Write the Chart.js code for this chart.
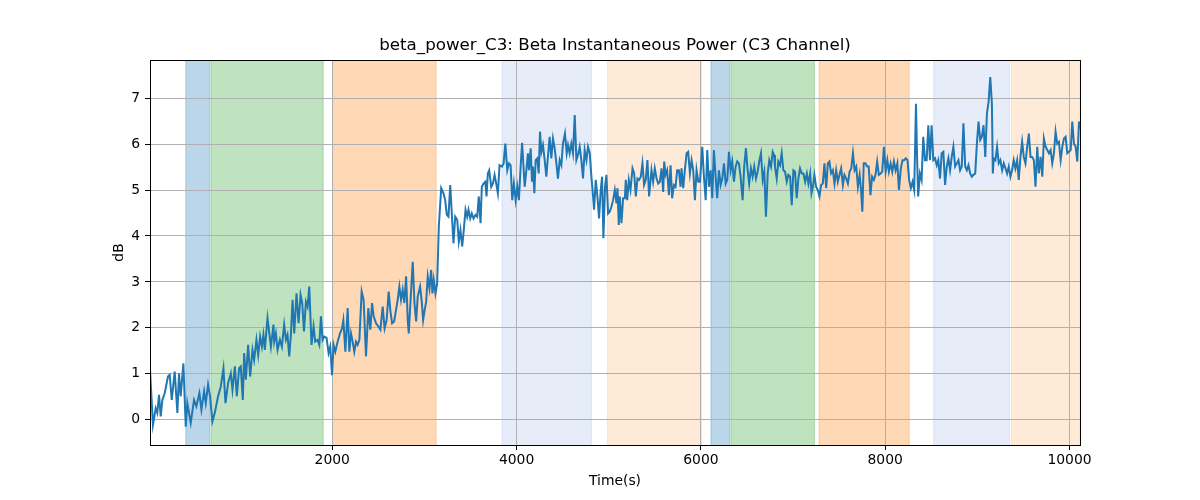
<!DOCTYPE html>
<html>
<head>
<meta charset="utf-8">
<title>beta_power_C3</title>
<script src="https://cdn.jsdelivr.net/npm/chart.js@4.4.0/dist/chart.umd.min.js"></script>
<style>
  html, body { margin: 0; padding: 0; background: #fff; }
  #wrap { width: 1200px; height: 500px; }
</style>
</head>
<body>
<div id="wrap"><canvas id="betaChart" width="1200" height="500"></canvas></div>
<script>
// time stamps (s) and beta power (dB)
const times = [
    22, 54, 84, 101, 120, 138, 156, 181, 217, 236, 258, 290, 319, 337, 355, 384, 410, 427, 464, 500,
    525, 558, 580, 609, 627, 652, 674, 699, 725, 761, 790, 819, 841, 870, 899, 917, 943, 964, 989, 1007,
    1029, 1044, 1062, 1087, 1109, 1134, 1152, 1177, 1196, 1217, 1236, 1253, 1268, 1297, 1334, 1362, 1370, 1388, 1406, 1432,
    1453, 1478, 1497, 1514, 1533, 1551, 1569, 1587, 1612, 1634, 1656, 1674, 1693, 1714, 1732, 1750, 1775, 1797, 1815, 1840,
    1859, 1877, 1895, 1913, 1938, 1960, 1978, 1997, 2014, 2033, 2058, 2084, 2106, 2120, 2142, 2167, 2185, 2203, 2221, 2239,
    2258, 2275, 2294, 2319, 2340, 2366, 2391, 2413, 2432, 2449, 2475, 2500, 2522, 2547, 2568, 2590, 2612, 2631, 2649, 2671,
    2692, 2710, 2728, 2746, 2764, 2782, 2801, 2819, 2830, 2848, 2873, 2892, 2910, 2927, 2953, 2971, 2986, 3000, 3019, 3036,
    3055, 3073, 3087, 3101, 3120, 3138, 3156, 3182, 3207, 3225, 3243, 3261, 3280, 3297, 3315, 3334, 3356, 3373, 3391, 3410,
    3427, 3446, 3464, 3478, 3497, 3514, 3533, 3554, 3573, 3590, 3609, 3623, 3641, 3660, 3674, 3688, 3703, 3725, 3743, 3761,
    3779, 3797, 3815, 3841, 3859, 3878, 3899, 3917, 3935, 3953, 3971, 3990, 4008, 4025, 4044, 4060, 4088, 4106, 4123, 4134,
    4153, 4167, 4178, 4193, 4207, 4225, 4240, 4254, 4269, 4286, 4305, 4323, 4340, 4359, 4377, 4395, 4413, 4432, 4449, 4468,
    4486, 4503, 4525, 4544, 4558, 4576, 4594, 4612, 4631, 4649, 4666, 4685, 4703, 4721, 4739, 4758, 4775, 4794, 4812, 4830,
    4841, 4859, 4877, 4895, 4913, 4928, 4942, 4960, 4975, 4993, 5011, 5030, 5047, 5066, 5084, 5095, 5109, 5120, 5138, 5156,
    5175, 5185, 5200, 5218, 5236, 5258, 5276, 5294, 5312, 5329, 5348, 5366, 5384, 5402, 5420, 5438, 5464, 5482, 5500, 5519,
    5537, 5555, 5573, 5591, 5602, 5617, 5634, 5653, 5671, 5688, 5707, 5725, 5743, 5761, 5779, 5790, 5808, 5826, 5845, 5862,
    5881, 5899, 5917, 5935, 5953, 5972, 5990, 6001, 6015, 6033, 6052, 6069, 6088, 6106, 6123, 6141, 6160, 6177, 6196, 6214,
    6232, 6251, 6269, 6286, 6305, 6323, 6340, 6359, 6377, 6394, 6413, 6431, 6453, 6470, 6489, 6507, 6524, 6543, 6561, 6579,
    6598, 6616, 6633, 6652, 6671, 6688, 6706, 6725, 6742, 6761, 6779, 6794, 6804, 6823, 6840, 6859, 6877, 6895, 6913, 6932,
    6949, 6968, 6986, 7004, 7022, 7040, 7058, 7076, 7095, 7113, 7131, 7150, 7167, 7186, 7200, 7215, 7232, 7250, 7269, 7287,
    7305, 7323, 7341, 7360, 7378, 7395, 7413, 7432, 7450, 7468, 7486, 7504, 7522, 7541, 7558, 7577, 7595, 7614, 7632, 7650,
    7668, 7686, 7704, 7723, 7738, 7752, 7767, 7785, 7804, 7821, 7840, 7858, 7877, 7895, 7913, 7931, 7950, 7968, 7986, 8005,
    8023, 8040, 8059, 8077, 8095, 8113, 8132, 8149, 8170, 8188, 8206, 8224, 8242, 8260, 8279, 8297, 8315, 8334, 8345, 8358,
    8377, 8395, 8413, 8432, 8450, 8468, 8486, 8504, 8522, 8541, 8559, 8576, 8595, 8613, 8631, 8650, 8668, 8686, 8704, 8722,
    8740, 8759, 8777, 8795, 8813, 8831, 8849, 8868, 8886, 8904, 8922, 8940, 8958, 8977, 8995, 9013, 9031, 9049, 9067, 9086,
    9104, 9122, 9140, 9158, 9168, 9178, 9196, 9214, 9232, 9250, 9269, 9287, 9305, 9323, 9341, 9359, 9377, 9395, 9413, 9432,
    9449, 9468, 9486, 9504, 9522, 9541, 9559, 9577, 9595, 9613, 9631, 9650, 9667, 9686, 9705, 9722, 9741, 9759, 9777, 9795,
    9813, 9831, 9849, 9867, 9885, 9904, 9922, 9940, 9958, 9976, 9994, 10013, 10030, 10048, 10067, 10085, 10103, 10114
];
const power = [
    1.09, -0.11, 0.25, 0.15, 0.54, 0.07, 0.43, 0.57, 0.94, 0.98, 0.43, 1.05, 0.15, 1.01, 0.51, 1.23, -0.15, 0.36, -0.07, 0.43,
    0.29, 0.58, 0.22, 0.62, 0.36, 0.76, 0.51, -0.04, 0.15, 0.51, 0.72, 1.12, 0.36, 0.80, 1.01, 0.65, 1.16, 0.51, 1.12, 1.16,
    0.43, 1.45, 0.87, 1.63, 0.94, 1.52, 1.30, 1.74, 1.41, 1.81, 1.59, 1.85, 1.52, 2.21, 1.59, 2.07, 1.70, 1.88, 1.52, 1.74,
    1.59, 2.07, 1.74, 1.85, 1.38, 1.85, 2.61, 1.88, 2.75, 2.10, 2.72, 2.54, 1.92, 2.57, 2.46, 2.90, 1.63, 2.03, 1.70, 1.74,
    1.63, 2.25, 1.74, 1.81, 1.78, 1.45, 1.59, 0.97, 1.63, 1.48, 1.70, 1.88, 1.99, 2.17, 1.48, 2.43, 1.48, 1.88, 1.70, 1.48,
    1.70, 1.63, 1.74, 2.79, 2.61, 1.38, 2.43, 1.96, 2.54, 2.25, 2.10, 2.03, 1.96, 2.46, 1.99, 2.17, 2.79, 2.36, 2.10, 2.14,
    2.39, 2.61, 2.90, 2.61, 2.83, 2.54, 3.12, 2.17, 1.88, 2.54, 3.44, 2.54, 2.14, 2.68, 2.90, 2.57, 2.17, 2.36, 2.57, 3.12,
    2.86, 3.26, 2.75, 3.04, 2.75, 2.97, 4.20, 5.04, 4.93, 4.78, 4.46, 4.42, 5.11, 4.49, 3.84, 4.42, 4.35, 3.88, 4.13, 3.77,
    4.13, 4.57, 4.42, 4.57, 4.38, 4.49, 4.38, 4.46, 4.42, 4.86, 4.28, 5.07, 5.14, 5.18, 4.86, 5.36, 5.43, 5.07, 5.14, 5.33,
    5.14, 4.93, 5.54, 5.51, 5.58, 6.01, 5.43, 5.58, 5.54, 4.78, 5.14, 4.78, 5.07, 4.78, 5.51, 6.03, 5.07, 5.43, 5.80, 5.43,
    5.91, 5.18, 5.51, 4.93, 5.65, 5.69, 5.36, 6.27, 5.83, 5.98, 5.65, 5.29, 5.72, 6.16, 5.69, 6.12, 5.91, 5.58, 5.25, 5.65,
    5.54, 6.01, 6.23, 5.80, 5.98, 5.80, 6.01, 5.80, 6.63, 5.65, 5.76, 5.94, 5.65, 5.25, 5.87, 5.65, 5.94, 5.80, 5.29, 4.86,
    4.57, 5.22, 4.86, 4.38, 5.00, 5.29, 3.95, 5.07, 5.33, 4.49, 4.53, 4.64, 4.78, 5.00, 4.71, 5.04, 4.24, 4.86, 4.28, 4.82,
    4.82, 5.22, 4.78, 5.22, 5.00, 5.47, 5.36, 4.86, 5.25, 5.22, 5.29, 5.58, 5.11, 5.22, 5.65, 4.86, 5.43, 5.18, 5.47, 5.25,
    5.14, 5.18, 5.47, 4.96, 5.62, 5.33, 5.43, 4.89, 5.54, 4.82, 5.11, 5.07, 5.43, 5.43, 5.07, 5.47, 5.04, 5.43, 5.80, 5.83,
    5.36, 5.65, 5.43, 4.78, 5.43, 5.18, 5.18, 5.51, 5.94, 5.29, 4.78, 5.87, 5.07, 5.43, 4.82, 5.87, 5.29, 4.82, 5.43, 5.11,
    5.25, 5.58, 5.14, 5.22, 5.83, 5.43, 5.62, 5.18, 5.51, 5.62, 5.58, 5.29, 4.78, 5.51, 5.91, 5.43, 5.14, 5.47, 5.29, 5.51,
    5.25, 5.40, 5.62, 5.80, 5.22, 5.40, 4.42, 5.36, 5.65, 5.51, 5.83, 5.76, 5.51, 5.25, 5.62, 5.54, 5.80, 5.43, 5.40, 5.18,
    5.33, 5.29, 4.67, 5.43, 5.40, 4.82, 5.25, 5.47, 5.36, 5.36, 5.18, 5.36, 5.14, 5.36, 4.93, 5.07, 5.33, 5.07, 5.00, 4.86,
    5.11, 5.14, 5.58, 5.04, 5.58, 5.62, 5.36, 5.43, 5.14, 5.43, 5.18, 5.33, 5.47, 5.11, 5.33, 5.25, 5.14, 5.40, 5.47, 5.80,
    5.43, 5.51, 5.07, 5.33, 5.00, 4.53, 5.58, 5.58, 5.51, 5.51, 4.89, 5.29, 5.22, 5.33, 5.62, 5.33, 5.36, 5.40, 5.94, 5.40,
    5.65, 5.40, 5.58, 5.40, 5.62, 5.43, 5.58, 5.00, 5.47, 5.65, 5.65, 5.69, 5.65, 5.22, 5.04, 5.18, 5.00, 6.88, 5.80, 4.86,
    5.36, 5.22, 6.16, 5.65, 5.65, 6.41, 5.65, 6.41, 5.65, 5.69, 5.54, 5.65, 5.25, 5.80, 5.83, 5.11, 5.51, 5.69, 5.43, 5.72,
    5.94, 5.51, 5.58, 5.65, 5.43, 5.51, 6.45, 5.51, 5.43, 5.54, 5.36, 5.29, 5.33, 5.36, 6.01, 6.49, 6.09, 6.16, 6.41, 5.72,
    6.67, 6.92, 7.46, 6.88, 5.36, 5.69, 5.65, 5.94, 5.58, 5.65, 5.43, 5.58, 5.47, 5.36, 5.51, 5.29, 5.43, 5.65, 5.47, 5.65,
    5.22, 5.72, 6.05, 5.72, 5.58, 5.94, 6.23, 5.72, 5.72, 5.65, 5.07, 5.94, 5.36, 5.72, 5.29, 6.12, 5.94, 5.87, 5.80, 5.87,
    5.58, 5.80, 6.27, 6.01, 6.05, 5.65, 5.94, 6.12, 6.16, 5.80, 5.83, 5.87, 6.49, 6.01, 5.94, 5.62, 6.49, 6.34
];

// shaded intervals (s)
const spanStarts = [410, 685, 2004, 3841, 4986, 6109, 6326, 7283, 8526, 9370];
const spanEnds   = [671, 1902, 3127, 4812, 6008, 6312, 7232, 8261, 9351, 10114];
const spanKinds  = ['blue', 'green', 'orange', 'paleBlue', 'paleOrange', 'blue', 'green', 'orange', 'paleBlue', 'paleOrange'];

const xTicks = [2000, 4000, 6000, 8000, 10000];
const yTicks = [0, 1, 2, 3, 4, 5, 6, 7];

const titleText = 'beta_power_C3: Beta Instantaneous Power (C3 Channel)';

const spanColors = {
    blue: 'rgba(31,119,180,0.3)',
    green: 'rgba(44,160,44,0.3)',
    orange: 'rgba(255,127,14,0.3)',
    paleBlue: 'rgba(60,110,200,0.13)',
    paleOrange: 'rgba(255,127,14,0.16)'
};

Chart.defaults.font.family = '"DejaVu Sans", sans-serif';
Chart.defaults.font.size = 13.9;
Chart.defaults.color = '#000';

const frame = {
    id: 'frame',
    beforeDraw(chart) {
        const { ctx, chartArea: a, scales: { x } } = chart;
        ctx.save();
        ctx.beginPath();
        ctx.rect(a.left, a.top, a.right - a.left, a.bottom - a.top);
        ctx.clip();
        spanStarts.forEach((s, i) => {
            const x0 = x.getPixelForValue(s);
            const x1 = x.getPixelForValue(spanEnds[i]);
            ctx.fillStyle = spanColors[spanKinds[i]];
            ctx.fillRect(x0, a.top, x1 - x0, a.bottom - a.top);
            ctx.strokeStyle = spanColors[spanKinds[i]];
            ctx.lineWidth = 1;
            ctx.strokeRect(x0, a.top - 2, x1 - x0, a.bottom - a.top + 4);
        });
        ctx.restore();
    },
    afterDraw(chart) {
        const { ctx, chartArea: a } = chart;
        ctx.save();
        ctx.strokeStyle = '#000';
        ctx.lineWidth = 1;
        ctx.strokeRect(Math.round(a.left) + 0.5, Math.round(a.top) + 0.5,
            Math.round(a.right - a.left), Math.round(a.bottom - a.top));
        ctx.fillStyle = '#000';
        ctx.font = '16.7px "DejaVu Sans", sans-serif';
        ctx.textAlign = 'center';
        ctx.textBaseline = 'middle';
        ctx.fillText(titleText, (a.left + a.right) / 2, 46);
        ctx.restore();
    }
};

const ctx = document.getElementById('betaChart').getContext('2d');
new Chart(ctx, {
    type: 'line',
    data: {
        datasets: [{
            label: 'beta_power_C3',
            data: times.map((t, i) => ({ x: t, y: power[i] })),
            borderColor: '#1f77b4',
            borderWidth: 2,
            pointRadius: 0,
            tension: 0,
            fill: false
        }]
    },
    options: {
        responsive: false,
        animation: false,
        devicePixelRatio: 1,
        layout: { padding: { left: 0, right: 120, top: 60, bottom: 0 } },
        plugins: {
            legend: { display: false },
            tooltip: { enabled: false }
        },
        scales: {
            x: {
                type: 'linear',
                min: times[0],
                max: times[times.length - 1],
                afterFit(scale) { scale.height = 55; },
                afterBuildTicks(scale) { scale.ticks = xTicks.map(v => ({ value: v })); },
                ticks: { padding: 2, maxRotation: 0, autoSkip: false, callback: v => String(v) },
                grid: { color: '#b0b0b0', lineWidth: 1, tickLength: 5, tickColor: '#000' },
                border: { display: false },
                title: { display: true, text: 'Time(s)', padding: { top: 0, bottom: 10.7 } }
            },
            y: {
                min: -0.55,
                max: 7.83,
                afterFit(scale) { scale.width = 150; },
                afterBuildTicks(scale) { scale.ticks = yTicks.map(v => ({ value: v })); },
                ticks: { padding: 5, autoSkip: false, callback: v => String(v) },
                grid: { color: '#b0b0b0', lineWidth: 1, tickLength: 5, tickColor: '#000' },
                border: { display: false },
                title: { display: true, text: 'dB', padding: { top: 111, bottom: 0 } }
            }
        }
    },
    plugins: [frame]
});
</script>
</body>
</html>
